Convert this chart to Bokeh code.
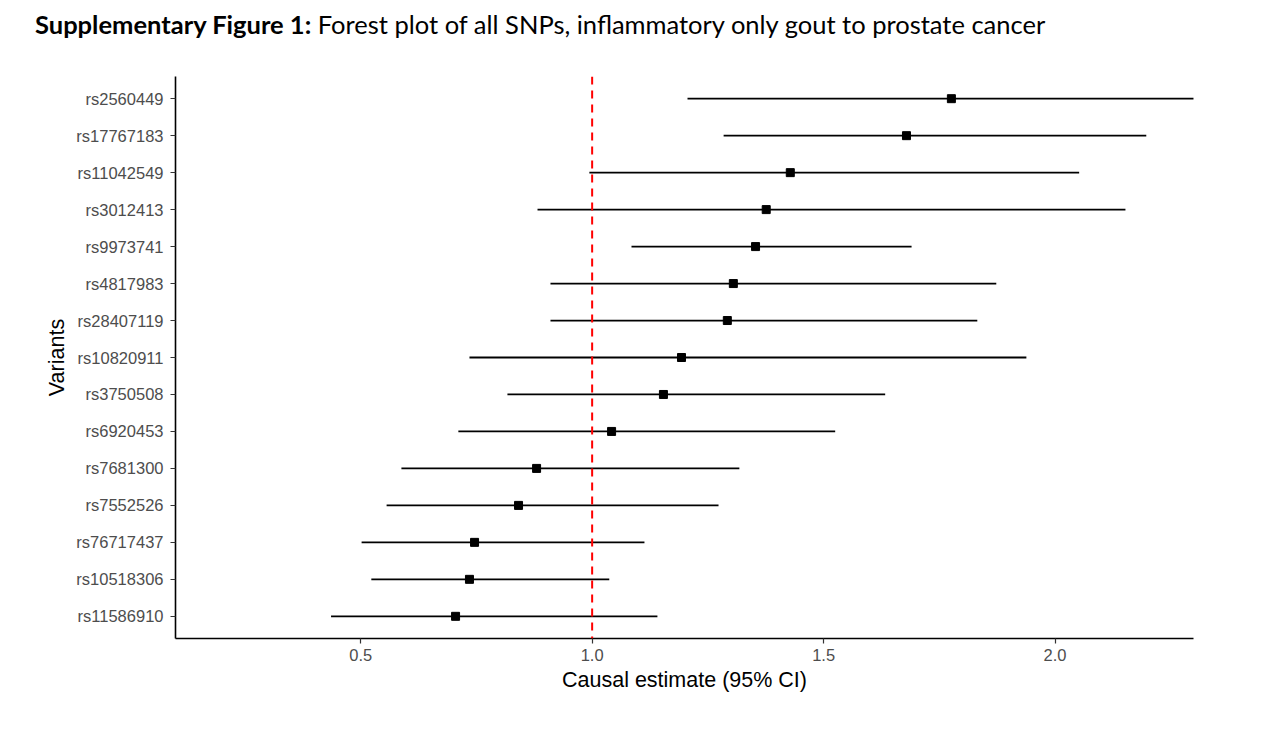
from bokeh.plotting import figure
from bokeh.models import Range1d, FixedTicker, Span, Div, ColumnDataSource
from bokeh.layouts import column
from bokeh.embed import file_html
from bokeh.resources import INLINE

# Data (top to bottom as displayed)
variants = ["rs2560449", "rs17767183", "rs11042549", "rs3012413", "rs9973741",
            "rs4817983", "rs28407119", "rs10820911", "rs3750508", "rs6920453",
            "rs7681300", "rs7552526", "rs76717437", "rs10518306", "rs11586910"]
estimate = [1.776, 1.679, 1.428, 1.376, 1.353, 1.305, 1.292, 1.193, 1.154, 1.042,
            0.880, 0.841, 0.746, 0.735, 0.705]
ci_low = [1.206, 1.284, 0.994, 0.882, 1.085, 0.910, 0.910, 0.735, 0.817, 0.711,
          0.588, 0.556, 0.502, 0.523, 0.436]
ci_high = [2.300, 2.197, 2.052, 2.152, 1.690, 1.873, 1.832, 1.938, 1.633, 1.525,
           1.318, 1.273, 1.113, 1.037, 1.141]
x_ticks = [0.5, 1.0, 1.5, 2.0]
x_tick_labels = ["0.5", "1.0", "1.5", "2.0"]
null_value = 1.0

n = len(variants)
ypos = [n - 1 - i for i in range(n)]

src = ColumnDataSource(dict(variant=variants, est=estimate, lo=ci_low, hi=ci_high, y=ypos))

p = figure(width=1258, height=652, output_backend="svg", toolbar_location=None,
           x_range=Range1d(0.100, 2.299), y_range=Range1d(-0.6, n - 1 + 0.6),
           min_border_left=175, min_border_right=65, min_border_top=18, min_border_bottom=72)
p.outline_line_color = None
p.xgrid.visible = False
p.ygrid.visible = False
p.background_fill_color = "white"

p.segment(x0="lo", y0="y", x1="hi", y1="y", source=src, line_color="black", line_width=1.8)
p.scatter(x="est", y="y", source=src, marker="square", size=8, fill_color="black", line_color="black")

p.add_layout(Span(location=null_value, dimension="height", line_color="#ff0000",
                  line_dash="8 6", line_width=2))

# x axis
xa = p.xaxis[0]
xa.ticker = FixedTicker(ticks=x_ticks)
xa.major_label_overrides = {t: l for t, l in zip(x_ticks, x_tick_labels)}
xa.minor_tick_line_color = None
xa.axis_line_color = "black"
xa.axis_line_width = 1.6
xa.major_tick_line_color = "#333333"
xa.major_tick_line_width = 1.2
xa.major_tick_out = 5
xa.major_tick_in = 0
xa.major_label_text_font = "Liberation Sans"
xa.major_label_text_font_size = "16.5px"
xa.major_label_text_color = "#4d4d4d"
xa.major_label_standoff = 5
xa.axis_label = "Causal estimate (95% CI)"
xa.axis_label_text_font = "Liberation Sans"
xa.axis_label_text_font_size = "21.5px"
xa.axis_label_text_font_style = "normal"
xa.axis_label_text_color = "black"
xa.axis_label_standoff = 4

# y axis
ya = p.yaxis[0]
ya.ticker = FixedTicker(ticks=ypos)
ya.major_label_overrides = {y: v for y, v in zip(ypos, variants)}
ya.minor_tick_line_color = None
ya.axis_line_color = "black"
ya.axis_line_width = 1.6
ya.major_tick_line_color = "#333333"
ya.major_tick_line_width = 1.2
ya.major_tick_out = 5
ya.major_tick_in = 0
ya.major_label_text_font = "Liberation Sans"
ya.major_label_text_font_size = "16.5px"
ya.major_label_text_color = "#4d4d4d"
ya.major_label_standoff = 7
ya.axis_label = "Variants"
ya.axis_label_text_font = "Liberation Sans"
ya.axis_label_text_font_size = "21.5px"
ya.axis_label_text_font_style = "normal"
ya.axis_label_text_color = "black"
ya.axis_label_standoff = 4

title = Div(text="<b>Supplementary Figure 1:</b> Forest plot of all SNPs, inflammatory only gout to prostate cancer",
            width=1258, height=58, margin=(0, 0, 0, 0),
            styles={"font-family": "Lato", "font-size": "25.5px", "color": "black",
                    "padding-left": "35px", "padding-top": "6px", "white-space": "nowrap"})

layout = column(title, p, spacing=0)
open("out.html", "w").write(file_html(layout, INLINE))
